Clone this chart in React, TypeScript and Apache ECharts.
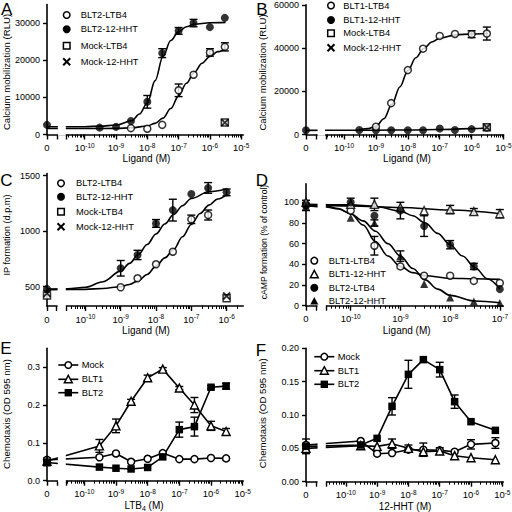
import React, { useEffect, useRef } from "react";
import * as echarts from "echarts";

const FONT = "Liberation Sans, Arial, Helvetica, sans-serif";

// ===== Panel A : BLT2 calcium mobilization =====
const A_CONC = [0, 3e-10, 1e-9, 3e-9, 1e-8, 3e-8, 1e-7, 3e-7, 1e-6, 3e-6];
const A_HHT = [2600, 1850, 2050, 3650, 8800, 21900, 27900, 30000, 28900, 31400];
const A_HHT_ERR = [0, 0, 0, 0, 1700, 1200, 900, 1000, 0, 0];
const A_LTB4_CONC = [3e-9, 1e-8, 3e-8, 1e-7, 3e-7, 1e-6, 3e-6];
const A_LTB4 = [1700, 1550, 2600, 11900, 16100, 22100, 23600];
const A_LTB4_ERR = [0, 0, 0, 1700, 0, 1000, 1100];
const A_MOCK_CONC = [3e-6];
const A_MOCK_LTB4 = [3200];
const A_MOCK_HHT = [3200];
const A_FIT_HHT_X = [-Infinity, -10, -9.5, -9, -8.5, -8.25, -8, -7.75, -7.5, -7.25, -7, -6.75, -6.5, -6, -5.5];
const A_FIT_HHT = [2100, 2100, 2250, 2550, 3700, 5500, 8500, 14500, 21000, 25300, 27700, 29000, 29700, 30100, 30200];
const A_FIT_LTB4_X = [-Infinity, -10, -9, -8.5, -8, -7.75, -7.5, -7.25, -7, -6.75, -6.5, -6.25, -6, -5.75, -5.5];
const A_FIT_LTB4 = [1600, 1600, 1650, 1800, 2300, 3000, 4400, 7000, 10400, 13800, 16700, 19200, 21000, 22300, 23100];
const A_YTICKS = [0, 10000, 20000, 30000];

// ===== Panel B : BLT1 calcium mobilization =====
const B_CONC = [0, 3e-10, 1e-9, 3e-9, 1e-8, 3e-8, 1e-7, 3e-7, 1e-6, 3e-6];
const B_HHT = [2000, 2100, 2000, 2000, 2000, 2000, 2800, 2100, 2500, 3100];
const B_LTB4_CONC = [1e-9, 3e-9, 1e-8, 3e-8, 1e-7, 3e-7, 1e-6, 3e-6];
const B_LTB4 = [3600, 14500, 29800, 39700, 45600, 46500, 46400, 46700];
const B_LTB4_ERR = [0, 0, 0, 0, 0, 0, 1600, 3000];
const B_MOCK_CONC = [3e-6];
const B_MOCK_LTB4 = [3300];
const B_MOCK_HHT = [3300];
const B_FIT_HHT_X = [-Infinity, -10, -9, -8, -7, -6, -5.5];
const B_FIT_HHT = [1900, 1950, 2000, 2100, 2300, 2700, 3000];
const B_FIT_LTB4_X = [-9.52, -9.25, -9, -8.75, -8.5, -8.25, -8, -7.75, -7.5, -7.25, -7, -6.5, -6, -5.5];
const B_FIT_LTB4 = [2200, 2700, 3800, 7300, 14000, 22000, 29500, 35500, 39800, 42800, 44600, 46100, 46500, 46700];
const B_YTICKS = [0, 20000, 40000, 60000];

// ===== Panel C : IP formation =====
const C_CONC = [0, 1e-9, 3e-9, 1e-8, 3e-8, 1e-7, 3e-7, 1e-6];
const C_HHT = [480, 666, 786, 1070, 1190, 1335, 1390, 1350];
const C_HHT_ERR = [0, 70, 42, 35, 98, 0, 48, 30];
const C_LTB4_CONC = [1e-9, 3e-9, 1e-8, 3e-8, 1e-7, 3e-7];
const C_LTB4 = [495, 576, 702, 815, 1107, 1146];
const C_LTB4_ERR = [0, 0, 0, 0, 38, 45];
const C_MOCK_CONC = [0, 1e-6];
const C_MOCK_LTB4 = [420, 395];
const C_MOCK_HHT = [440, 416];
const C_FIT_HHT_X = [-Infinity, -10.5, -10, -9.5, -9, -8.75, -8.5, -8.25, -8, -7.75, -7.5, -7.25, -7, -6.5, -6];
const C_FIT_HHT = [478, 480, 495, 545, 640, 710, 790, 880, 975, 1065, 1150, 1230, 1295, 1355, 1380];
const C_FIT_LTB4_X = [-Infinity, -10, -9.5, -9, -8.75, -8.5, -8.25, -8, -7.75, -7.5, -7.25, -7, -6.75, -6.5, -6.25, -6];
const C_FIT_LTB4 = [474, 476, 484, 500, 520, 555, 610, 685, 760, 835, 950, 1060, 1160, 1235, 1290, 1330];
const C_YTICKS = [500, 1000, 1500];

// ===== Panel D : cAMP formation =====
const D_CONC = [0, 1e-10, 3e-10, 1e-9, 3e-9, 1e-8, 3e-8, 1e-7];
const D_BLT1_LTB4 = [98, 92, 58, 38, 29, 29, 24, 22];
const D_BLT1_LTB4_ERR = [0, 0, 9, 0, 0, 0, 0, 0];
const D_BLT1_HHT = [100, 98, 98, 95, 92, 93, 91, 89];
const D_BLT1_HHT_ERR = [0, 0, 6, 0, 0, 4, 3, 4];
const D_BLT2_LTB4 = [97, 100, 87, 92, 77, 59, 38, 16];
const D_BLT2_LTB4_ERR = [5, 4, 0, 8, 10, 4, 3, 0];
const D_BLT2_HHT = [96, 85, 80, 48, 21, 8, 4, 2.5];
const D_BLT2_HHT_ERR = [0, 0, 3, 5, 0, 0, 0, 0];
const D_FIT_BLT1_LTB4_X = [-Infinity, -10.5, -10.25, -10, -9.75, -9.5, -9.25, -9, -8.75, -8.5, -8, -7.5, -7];
const D_FIT_BLT1_LTB4 = [97, 96.5, 94, 89, 78, 62, 48, 38, 32, 29, 26.5, 26, 25.5];
const D_FIT_BLT1_HHT_X = [-Infinity, -10, -9, -8, -7];
const D_FIT_BLT1_HHT = [97.5, 96.5, 95, 92.5, 89];
const D_FIT_BLT2_LTB4_X = [-Infinity, -10, -9.5, -9, -8.75, -8.5, -8.25, -8, -7.75, -7.5, -7.25, -7];
const D_FIT_BLT2_LTB4 = [98, 97.5, 96, 91.5, 87, 80, 70, 59, 48, 37, 26, 16];
const D_FIT_BLT2_HHT_X = [-Infinity, -10.5, -10.25, -10, -9.75, -9.5, -9.25, -9, -8.75, -8.5, -8.25, -8, -7.5, -7];
const D_FIT_BLT2_HHT = [97, 95.5, 93.5, 89, 82, 72, 60, 48, 36, 25, 16, 10, 4.5, 2.8];
const D_YTICKS = [0, 20, 40, 60, 80, 100];

// ===== Panel E : chemotaxis to LTB4 =====
const E_CONC = [0, 3e-10, 1e-9, 3e-9, 1e-8, 3e-8, 1e-7, 3e-7, 1e-6, 3e-6];
const E_MOCK = [0.055, 0.062, 0.072, 0.05, 0.058, 0.073, 0.057, 0.057, 0.06, 0.059];
const E_BLT1 = [0.052, 0.092, 0.145, 0.21, 0.272, 0.295, 0.245, 0.2, 0.145, 0.13];
const E_BLT1_ERR = [0.008, 0.017, 0.018, 0.005, 0.007, 0.004, 0.004, 0.02, 0.012, 0.008];
const E_BLT2 = [0.048, 0.036, 0.033, 0.031, 0.035, 0.063, 0.135, 0.143, 0.247, 0.25];
const E_BLT2_ERR = [0.008, 0, 0, 0, 0, 0, 0.02, 0.025, 0.004, 0.008];
const E_YTICKS = [0, 0.1, 0.2, 0.3];

// ===== Panel F : chemotaxis to 12-HHT =====
const F_CONC = [0, 3e-10, 1e-9, 3e-9, 1e-8, 3e-8, 1e-7, 3e-7, 1e-6, 6e-6];
const F_MOCK = [0.055, 0.061, 0.042, 0.043, 0.048, 0.048, 0.047, 0.045, 0.056, 0.058];
const F_MOCK_ERR = [0, 0, 0, 0, 0, 0.01, 0, 0, 0.007, 0.008];
const F_BLT1 = [0.05, 0.054, 0.053, 0.057, 0.05, 0.045, 0.046, 0.039, 0.036, 0.033];
const F_BLT1_ERR = [0, 0, 0, 0.007, 0.005, 0.003, 0.005, 0, 0, 0];
const F_BLT2 = [0.053, 0.055, 0.065, 0.113, 0.161, 0.183, 0.168, 0.12, 0.09, 0.077];
const F_BLT2_ERR = [0.011, 0, 0, 0.013, 0.021, 0, 0.011, 0.01, 0, 0];
const F_YTICKS = [0, 0.05, 0.1, 0.15, 0.2];

// ===== layout (pixels) =====
type Panel = {
  left: number; right: number; top: number; bottom: number;
  xmin: number; xmax: number; segEnd: number; logStart: number;
  ymin: number; ymax: number; yTicks: number[]; yFmt: (v: number) => string;
};
const intFmt = (v: number) => String(Math.round(v));
const PANELS: Panel[] = [
  { left: 47, right: 243.3, top: 4.5, bottom: 134.5, xmin: -11.204, xmax: -4.933, segEnd: 57, logStart: 66.7, ymin: 0, ymax: 35000, yTicks: A_YTICKS, yFmt: intFmt },
  { left: 306, right: 503.5, top: 4.8, bottom: 134.5, xmin: -11.194, xmax: -5.0, segEnd: 316.7, logStart: 326, ymin: 0, ymax: 60000, yTicks: B_YTICKS, yFmt: intFmt },
  { left: 47, right: 243.3, top: 173.5, bottom: 306, xmin: -11.088, xmax: -5.527, segEnd: 56.7, logStart: 66.7, ymin: 326, ymax: 1520, yTicks: C_YTICKS, yFmt: intFmt },
  { left: 306, right: 503.3, top: 183.7, bottom: 305.7, xmin: -10.899, xmax: -6.93, segEnd: 316.7, logStart: 326.7, ymin: 0, ymax: 118, yTicks: D_YTICKS, yFmt: intFmt },
  { left: 47, right: 243.3, top: 348.3, bottom: 480.7, xmin: -11.178, xmax: -4.98, segEnd: 57, logStart: 66.7, ymin: 0, ymax: 0.35, yTicks: E_YTICKS, yFmt: (v) => v.toFixed(1) },
  { left: 306, right: 503.3, top: 348.3, bottom: 481.7, xmin: -11.272, xmax: -4.968, segEnd: 316.7, logStart: 326.7, ymin: 0, ymax: 0.2, yTicks: F_YTICKS, yFmt: (v) => v.toFixed(2) },
];

const SYM: Record<string, any> = {
  openCircle: { symbol: "circle", symbolSize: 7, itemStyle: { color: "#fff", borderColor: "#000", borderWidth: 1.5 } },
  filledCircle: { symbol: "circle", symbolSize: 8, itemStyle: { color: "#000", borderColor: "#000", borderWidth: 0 } },
  openSquare: { symbol: "rect", symbolSize: 7, itemStyle: { color: "#fff", borderColor: "#000", borderWidth: 1.5 } },
  filledSquare: { symbol: "rect", symbolSize: 7.5, itemStyle: { color: "#000", borderColor: "#000", borderWidth: 0 } },
  cross: { symbol: "path://M0,0L10,10M10,0L0,10", symbolSize: 7, itemStyle: { color: "none", borderColor: "#000", borderWidth: 2 } },
  openTriangle: { symbol: "triangle", symbolSize: 8, itemStyle: { color: "#fff", borderColor: "#000", borderWidth: 1.4 } },
  filledTriangle: { symbol: "triangle", symbolSize: 8, itemStyle: { color: "#000", borderColor: "#000", borderWidth: 0 } },
};

const lx = (P: Panel, c: number) => (c === 0 ? P.xmin : Math.log10(c));
const fx = (P: Panel, e: number) => (Number.isFinite(e) ? e : P.xmin);

function scatterS(i: number, conc: number[], vals: number[], sym: string) {
  const P = PANELS[i];
  return {
    type: "scatter", xAxisIndex: 2 * i, yAxisIndex: i, silent: true, z: 4,
    data: conc.map((c, k) => [lx(P, c), vals[k]]), ...SYM[sym],
  };
}
function fitS(i: number, xs: number[], vals: number[]) {
  const P = PANELS[i];
  return {
    type: "line", xAxisIndex: 2 * i, yAxisIndex: i, silent: true, z: 3,
    data: xs.map((e, k) => [fx(P, e), vals[k]]),
    symbol: "none", showSymbol: false, smooth: 0.35, smoothMonotone: "x",
    lineStyle: { color: "#000", width: 1.6 },
  };
}
function lineS(i: number, conc: number[], vals: number[], sym: string) {
  const P = PANELS[i];
  return {
    type: "line", xAxisIndex: 2 * i, yAxisIndex: i, silent: true, z: 4,
    data: conc.map((c, k) => [lx(P, c), vals[k]]), showAllSymbol: true, ...SYM[sym],
    lineStyle: { color: "#000", width: 1.6 },
  };
}
function errS(i: number, conc: number[], vals: number[], errs: number[]) {
  const P = PANELS[i];
  const data = conc.map((c, k) => [lx(P, c), vals[k], errs[k]]).filter((d) => d[2] > 0);
  return {
    type: "custom", xAxisIndex: 2 * i, yAxisIndex: i, silent: true, z: 2,
    encode: { x: 0, y: 1 }, data,
    renderItem: (_p: any, api: any) => {
      const x = api.value(0), y = api.value(1), e = api.value(2);
      const t = api.coord([x, y + e]);
      const b = api.coord([x, y - e]);
      const w = 4;
      const st = { stroke: "#000", lineWidth: 1.4 };
      return {
        type: "group",
        children: [
          { type: "line", shape: { x1: t[0], y1: t[1], x2: b[0], y2: b[1] }, style: st },
          { type: "line", shape: { x1: t[0] - w, y1: t[1], x2: t[0] + w, y2: t[1] }, style: st },
          { type: "line", shape: { x1: b[0] - w, y1: b[1], x2: b[0] + w, y2: b[1] }, style: st },
        ],
      };
    },
  };
}

function marker(kind: string, cx: number, cy: number): any {
  const z = 60;
  const open = { fill: "#fff", stroke: "#000", lineWidth: 1.5 };
  const full = { fill: "#000" };
  switch (kind) {
    case "openCircle": return { type: "circle", z, shape: { cx, cy, r: 3.3 }, style: open };
    case "filledCircle": return { type: "circle", z, shape: { cx, cy, r: 4 }, style: full };
    case "openSquare": return { type: "rect", z, shape: { x: cx - 3.3, y: cy - 3.3, width: 6.6, height: 6.6 }, style: open };
    case "filledSquare": return { type: "rect", z, shape: { x: cx - 3.7, y: cy - 3.7, width: 7.4, height: 7.4 }, style: full };
    case "openTriangle": return { type: "polygon", z, shape: { points: [[cx, cy - 4], [cx + 4, cy + 3.5], [cx - 4, cy + 3.5]] }, style: { fill: "#fff", stroke: "#000", lineWidth: 1.4 } };
    case "filledTriangle": return { type: "polygon", z, shape: { points: [[cx, cy - 4], [cx + 4, cy + 3.5], [cx - 4, cy + 3.5]] }, style: full };
    default:
      return {
        type: "group", z,
        children: [
          { type: "line", z, shape: { x1: cx - 3.5, y1: cy - 3.5, x2: cx + 3.5, y2: cy + 3.5 }, style: { stroke: "#000", lineWidth: 2 } },
          { type: "line", z, shape: { x1: cx + 3.5, y1: cy - 3.5, x2: cx - 3.5, y2: cy + 3.5 }, style: { stroke: "#000", lineWidth: 2 } },
        ],
      };
  }
}
function txt(x: number, y: number, text: string, size: number, align = "left", rot = 0, extra: any = {}): any {
  return {
    type: "text", x, y, rotation: rot, z: 60,
    style: {
      text, fontSize: size, fontFamily: FONT, fontWeight: "normal", fill: "#000",
      textAlign: align, textVerticalAlign: "middle", align, verticalAlign: "middle", ...extra,
    },
  };
}

function buildOption() {
  const grid: any[] = [], xAxis: any[] = [], yAxis: any[] = [], graphic: any[] = [];
  PANELS.forEach((P, i) => {
    const w = P.right - P.left;
    const toV = (px: number) => P.xmin + ((px - P.left) / w) * (P.xmax - P.xmin);
    const segV = toV(P.segEnd), logV = toV(P.logStart);
    const decades: number[] = [];
    for (let n = Math.ceil(logV); n <= P.xmax + 1e-9; n++) decades.push(n);
    const minors: number[] = [];
    for (let n = Math.floor(logV); n < P.xmax; n++)
      for (let k = 2; k <= 9; k++) {
        const v = n + Math.log10(k);
        if (v > logV + 0.02 && v < P.xmax) minors.push(v);
      }
    grid.push({ left: P.left, top: P.top, width: w, height: P.bottom - P.top, containLabel: false, outerBoundsMode: "none" });
    xAxis.push({
      gridIndex: i, type: "value", min: P.xmin, max: P.xmax, position: "bottom",
      axisLine: { show: true, onZero: false, lineStyle: { color: "#000", width: 1.6 } },
      axisTick: { show: true, customValues: [P.xmin, segV, logV, ...decades], length: 5, lineStyle: { color: "#000", width: 1.4 } },
      axisLabel: {
        show: true, customValues: [P.xmin, ...decades], margin: 7, color: "#000", fontSize: 9, fontFamily: FONT, fontWeight: "normal",
        formatter: (v: number) => (Math.abs(v - P.xmin) < 1e-6 ? "{b|0}" : `{b|10}{s|${Math.round(v)}}`),
        rich: {
          b: { fontSize: 9.5, fontFamily: FONT, fontWeight: "normal", color: "#000", lineHeight: 12, verticalAlign: "middle" },
          s: { fontSize: 6.5, fontFamily: FONT, fontWeight: "normal", color: "#000", lineHeight: 7, verticalAlign: "top" },
        },
      },
      splitLine: { show: false },
    });
    xAxis.push({
      gridIndex: i, type: "value", min: P.xmin, max: P.xmax, position: "bottom",
      axisLine: { show: false, onZero: false },
      axisTick: { show: true, customValues: minors, length: 3, lineStyle: { color: "#000", width: 1 } },
      axisLabel: { show: false }, splitLine: { show: false },
    });
    yAxis.push({
      gridIndex: i, type: "value", min: P.ymin, max: P.ymax, position: "left",
      axisLine: { show: true, onZero: false, lineStyle: { color: "#000", width: 1.6 } },
      axisTick: { show: true, customValues: P.yTicks, length: 4, lineStyle: { color: "#000", width: 1.4 } },
      axisLabel: { show: true, customValues: P.yTicks, margin: 7, color: "#000", fontSize: 9, fontFamily: FONT, fontWeight: "normal", formatter: P.yFmt },
      splitLine: { show: false },
    });
    graphic.push({
      type: "rect", z: 50, silent: true,
      shape: { x: P.segEnd + 0.9, y: P.top - 4, width: P.logStart - P.segEnd - 1.8, height: P.bottom - P.top + 5.2 },
      style: { fill: "#fff" },
    });
  });

  // panel letters
  [["A", 6.7, 9], ["B", 262, 9.5], ["C", 6.5, 180.3], ["D", 262, 180], ["E", 6, 348.3], ["F", 261, 350.7]].forEach(
    ([l, x, y]) => graphic.push(txt(x as number, y as number, l as string, 17, "center"))
  );
  // y titles
  graphic.push(txt(6.7, 72, "Calcium mobilization (RLU)", 9.6, "center", Math.PI / 2));
  graphic.push(txt(262.7, 72.5, "Calcium mobilization (RLU)", 9.6, "center", Math.PI / 2));
  graphic.push(txt(6.7, 235, "IP formation (d.p.m)", 9.2, "center", Math.PI / 2));
  graphic.push(txt(263.5, 242, "cAMP formation (% of control)", 8.6, "center", Math.PI / 2));
  graphic.push(txt(6.7, 414, "Chemotaxis (OD 595 nm)", 9.7, "center", Math.PI / 2));
  graphic.push(txt(262.7, 413.3, "Chemotaxis (OD 595 nm)", 9.7, "center", Math.PI / 2));
  // x titles
  graphic.push(txt(146.5, 158.3, "Ligand (M)", 10, "center"));
  graphic.push(txt(407, 158.3, "Ligand (M)", 10, "center"));
  graphic.push(txt(146, 330.5, "Ligand (M)", 10, "center"));
  graphic.push(txt(406.7, 330.5, "Ligand (M)", 10, "center"));
  graphic.push(txt(144, 505, "LTB{sub|4} (M)", 10, "center", 0, {
    lineHeight: 14, rich: { sub: { fontSize: 7, fontFamily: FONT, fontWeight: "normal", lineHeight: 7, verticalAlign: "bottom" } },
  }));
  graphic.push(txt(405, 506, "12-HHT (M)", 10, "center"));

  // legends
  const legend = (mx: number, tx: number, rows: number[], items: [string, string][]) =>
    items.forEach(([kind, label], k) => {
      graphic.push(marker(kind, mx, rows[k]));
      graphic.push(txt(tx, rows[k], label, 9.3));
    });
  legend(66.7, 80.7, [15, 29.3, 45.7, 61.7], [["openCircle", "BLT2-LTB4"], ["filledCircle", "BLT2-12-HHT"], ["openSquare", "Mock-LTB4"], ["cross", "Mock-12-HHT"]]);
  legend(331, 343.3, [5.5, 20, 33.3, 47.7], [["openCircle", "BLT1-LTB4"], ["filledCircle", "BLT1-12-HHT"], ["openSquare", "Mock-LTB4"], ["cross", "Mock-12-HHT"]]);
  legend(61, 76, [183.3, 196.7, 211.7, 226.7], [["openCircle", "BLT2-LTB4"], ["filledCircle", "BLT2-12-HHT"], ["openSquare", "Mock-LTB4"], ["cross", "Mock-12-HHT"]]);
  legend(314.3, 328.7, [260.7, 274.3, 287.7, 301], [["openCircle", "BLT1-LTB4"], ["openTriangle", "BLT1-12-HHT"], ["filledCircle", "BLT2-LTB4"], ["filledTriangle", "BLT2-12-HHT"]]);
  const lineLegend = (x1: number, x2: number, tx: number, rows: number[], items: [string, string][]) =>
    items.forEach(([kind, label], k) => {
      graphic.push({ type: "line", z: 59, shape: { x1, y1: rows[k], x2, y2: rows[k] }, style: { stroke: "#000", lineWidth: 1.6 } });
      graphic.push(marker(kind, (x1 + x2) / 2, rows[k]));
      graphic.push(txt(tx, rows[k], label, 9.3));
    });
  lineLegend(58.3, 78.3, 81.7, [365, 379.3, 392.7], [["openCircle", "Mock"], ["openTriangle", "BLT1"], ["filledSquare", "BLT2"]]);
  lineLegend(314.3, 334.3, 337.7, [356.7, 370.7, 384.3], [["openCircle", "Mock"], ["openTriangle", "BLT1"], ["filledSquare", "BLT2"]]);

  const series: any[] = [
    // A
    fitS(0, A_FIT_HHT_X, A_FIT_HHT), fitS(0, A_FIT_LTB4_X, A_FIT_LTB4),
    errS(0, A_CONC, A_HHT, A_HHT_ERR), errS(0, A_LTB4_CONC, A_LTB4, A_LTB4_ERR),
    scatterS(0, A_MOCK_CONC, A_MOCK_LTB4, "openSquare"), scatterS(0, A_MOCK_CONC, A_MOCK_HHT, "cross"),
    scatterS(0, A_LTB4_CONC, A_LTB4, "openCircle"), scatterS(0, A_CONC, A_HHT, "filledCircle"),
    // B
    fitS(1, B_FIT_HHT_X, B_FIT_HHT), fitS(1, B_FIT_LTB4_X, B_FIT_LTB4),
    errS(1, B_LTB4_CONC, B_LTB4, B_LTB4_ERR),
    scatterS(1, B_CONC, B_HHT, "filledCircle"), scatterS(1, B_LTB4_CONC, B_LTB4, "openCircle"),
    scatterS(1, B_MOCK_CONC, B_MOCK_LTB4, "openSquare"), scatterS(1, B_MOCK_CONC, B_MOCK_HHT, "cross"),
    // C
    fitS(2, C_FIT_HHT_X, C_FIT_HHT), fitS(2, C_FIT_LTB4_X, C_FIT_LTB4),
    errS(2, C_CONC, C_HHT, C_HHT_ERR), errS(2, C_LTB4_CONC, C_LTB4, C_LTB4_ERR),
    scatterS(2, C_MOCK_CONC, C_MOCK_LTB4, "openSquare"), scatterS(2, C_MOCK_CONC, C_MOCK_HHT, "cross"),
    scatterS(2, C_LTB4_CONC, C_LTB4, "openCircle"), scatterS(2, C_CONC, C_HHT, "filledCircle"),
    // D
    fitS(3, D_FIT_BLT1_LTB4_X, D_FIT_BLT1_LTB4), fitS(3, D_FIT_BLT1_HHT_X, D_FIT_BLT1_HHT),
    fitS(3, D_FIT_BLT2_LTB4_X, D_FIT_BLT2_LTB4), fitS(3, D_FIT_BLT2_HHT_X, D_FIT_BLT2_HHT),
    errS(3, D_CONC, D_BLT1_LTB4, D_BLT1_LTB4_ERR), errS(3, D_CONC, D_BLT1_HHT, D_BLT1_HHT_ERR),
    errS(3, D_CONC, D_BLT2_LTB4, D_BLT2_LTB4_ERR), errS(3, D_CONC, D_BLT2_HHT, D_BLT2_HHT_ERR),
    scatterS(3, D_CONC, D_BLT1_LTB4, "openCircle"), scatterS(3, D_CONC, D_BLT1_HHT, "openTriangle"),
    scatterS(3, D_CONC, D_BLT2_LTB4, "filledCircle"), scatterS(3, D_CONC, D_BLT2_HHT, "filledTriangle"),
    // E
    errS(4, E_CONC, E_BLT1, E_BLT1_ERR), errS(4, E_CONC, E_BLT2, E_BLT2_ERR),
    lineS(4, E_CONC, E_MOCK, "openCircle"), lineS(4, E_CONC, E_BLT1, "openTriangle"), lineS(4, E_CONC, E_BLT2, "filledSquare"),
    // F
    errS(5, F_CONC, F_MOCK, F_MOCK_ERR), errS(5, F_CONC, F_BLT1, F_BLT1_ERR), errS(5, F_CONC, F_BLT2, F_BLT2_ERR),
    lineS(5, F_CONC, F_MOCK, "openCircle"), lineS(5, F_CONC, F_BLT1, "openTriangle"), lineS(5, F_CONC, F_BLT2, "filledSquare"),
  ];

  return {
    animation: false,
    backgroundColor: "#fff",
    textStyle: { fontFamily: FONT, color: "#000", fontWeight: "normal" },
    grid, xAxis, yAxis, series, graphic,
  };
}

export default function App() {
  const ref = useRef<HTMLDivElement>(null);
  useEffect(() => {
    const chart = echarts.init(ref.current!, null, { renderer: "svg" });
    chart.setOption(buildOption() as any);
    return () => chart.dispose();
  }, []);
  return (
    <div
      ref={ref}
      style={{ position: "absolute", left: 0, top: 0, width: 512, height: 512, background: "#fff" }}
    />
  );
}
